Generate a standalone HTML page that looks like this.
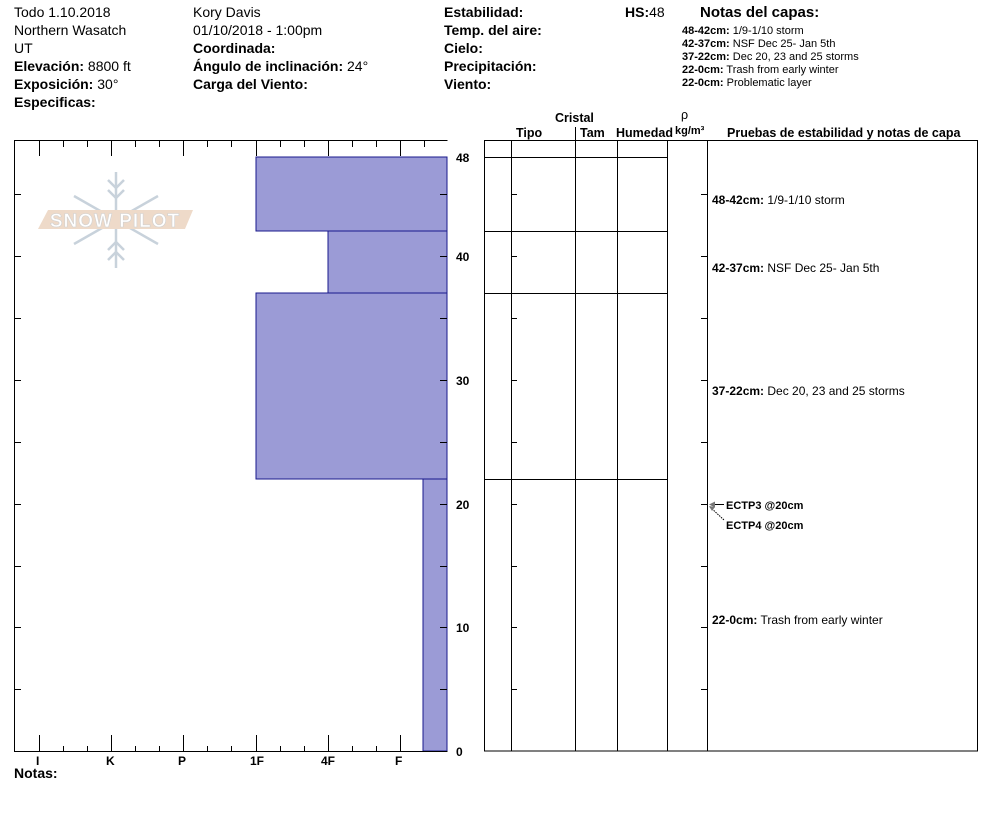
<!DOCTYPE html>
<html><head><meta charset="utf-8"><style>
body{margin:0;background:#fff}
svg{display:block;font-family:"Liberation Sans",Arial,sans-serif}
.b{font-weight:bold}
</style></head><body>
<svg width="994" height="840" viewBox="0 0 994 840" xmlns="http://www.w3.org/2000/svg">
<g font-size="14" fill="#000">
<text x="14" y="17">Todo 1.10.2018</text>
<text x="14" y="35">Northern Wasatch</text>
<text x="14" y="53">UT</text>
<text x="14" y="71"><tspan class="b">Elevación:</tspan> 8800 ft</text>
<text x="14" y="89"><tspan class="b">Exposición:</tspan> 30°</text>
<text x="14" y="107" class="b">Especificas:</text>
<text x="193" y="17">Kory Davis</text>
<text x="193" y="35">01/10/2018 - 1:00pm</text>
<text x="193" y="53" class="b">Coordinada:</text>
<text x="193" y="71"><tspan class="b">Ángulo de inclinación:</tspan> 24°</text>
<text x="193" y="89" class="b">Carga del Viento:</text>
<text x="444" y="17" class="b">Estabilidad:</text>
<text x="444" y="35" class="b">Temp. del aire:</text>
<text x="444" y="53" class="b">Cielo:</text>
<text x="444" y="71" class="b">Precipitación:</text>
<text x="444" y="89" class="b">Viento:</text>
<text x="625" y="17"><tspan class="b">HS:</tspan>48</text>
<text x="700" y="17" class="b" font-size="15">Notas del capas:</text>
</g>
<g font-size="11">
<text x="682" y="34"><tspan class="b">48-42cm:</tspan> 1/9-1/10 storm</text>
<text x="682" y="47"><tspan class="b">42-37cm:</tspan> NSF Dec 25- Jan 5th</text>
<text x="682" y="60"><tspan class="b">37-22cm:</tspan> Dec 20, 23 and 25 storms</text>
<text x="682" y="73"><tspan class="b">22-0cm:</tspan>  Trash from early winter</text>
<text x="682" y="86"><tspan class="b">22-0cm:</tspan> Problematic layer</text>
</g>
<!-- logo -->
<g opacity="0.9">
<g stroke="#c3ced8" stroke-width="2.5" fill="none">
<line x1="116" y1="172" x2="116" y2="268"/>
<line x1="74" y1="196" x2="158" y2="244"/>
<line x1="74" y1="244" x2="158" y2="196"/>
<path d="M108 180l8 8 8-8M108 190l8 8 8-8M108 260l8-8 8 8M108 250l8-8 8 8"/>
</g>
<polygon points="48,210 193,210 185,229 38,229" fill="#edd7c4"/>
<text x="115" y="227" text-anchor="middle" font-size="19" fill="#fff" stroke="#ccc" stroke-width="0.6" font-weight="bold" letter-spacing="1">SNOW PILOT</text>
</g>
<!-- bars -->
<g fill="#9b9bd6" stroke="#1a1a8c" stroke-width="1">
<rect x="256" y="157" width="191" height="74"/>
<rect x="328" y="231" width="119" height="62"/>
<rect x="256" y="293" width="191" height="186"/>
<rect x="423" y="479" width="24" height="272"/>
</g>
<!-- left frame -->
<g stroke="#000" stroke-width="1" fill="none">
<path d="M14.5 140.5H447.5M14.5 140V751M14 751.5H447.5"/>
<path d="M39.5 140v16M111.5 140v16M183.5 140v16M256.5 140v16M328.5 140v16M400.5 140v16
M63.5 140v7M87.5 140v7M135.5 140v7M159.5 140v7M207.5 140v7M231.5 140v7M280.5 140v7M304.5 140v7M352.5 140v7M376.5 140v7M424.5 140v7
M39.5 751v-16M111.5 751v-16M183.5 751v-16M256.5 751v-16M328.5 751v-16M400.5 751v-16
M63.5 751v-5M87.5 751v-5M135.5 751v-5M159.5 751v-5M207.5 751v-5M231.5 751v-5M280.5 751v-5M304.5 751v-5M352.5 751v-5M376.5 751v-5"/>
<path d="M14 194.5h7M14 256.5h7M14 318.5h7M14 380.5h7M14 442.5h7M14 504.5h7M14 566.5h7M14 627.5h7M14 689.5h7
M447 194.5h-7M447 256.5h-7M447 318.5h-7M447 380.5h-7M447 442.5h-7M447 504.5h-7M447 566.5h-7M447 627.5h-7M447 689.5h-7"/>
</g>
<g font-size="12" class="b" font-weight="bold">
<text x="456" y="162">48</text><text x="456" y="261">40</text><text x="456" y="385">30</text>
<text x="456" y="509">20</text><text x="456" y="632">10</text><text x="456" y="756">0</text>
<text x="36" y="765">I</text><text x="106" y="765">K</text><text x="178" y="765">P</text>
<text x="250" y="765">1F</text><text x="321" y="765">4F</text><text x="395" y="765">F</text>
<text x="14" y="778" font-size="14">Notas:</text>
</g>
<!-- right table -->
<g font-size="12.5" font-weight="bold">
<text x="555" y="122">Cristal</text>
<text x="516" y="137">Tipo</text><text x="580" y="137">Tam</text><text x="616" y="137">Humedad</text>
<text x="681" y="119" font-weight="normal">ρ</text>
<text x="675" y="134" font-size="11">kg/m³</text>
<text x="727" y="137">Pruebas de estabilidad y notas de capa</text>
</g>
<g stroke="#000" stroke-width="1" fill="none">
<rect x="484.5" y="140.5" width="493" height="610.5"/>
<path d="M511.5 140V751M575.5 140V751M617.5 140V751M667.5 140V751M707.5 140V751M575.5 127v13"/>
<path d="M484 157.5H667M484 231.5H667M484 293.5H667M484 479.5H667"/>
<path d="M511 194.5h6M511 256.5h6M511 318.5h6M511 380.5h6M511 442.5h6M511 504.5h6M511 566.5h6M511 627.5h6M511 689.5h6
M707 194.5h-6M707 256.5h-6M707 318.5h-6M707 380.5h-6M707 442.5h-6M707 504.5h-6M707 566.5h-6M707 627.5h-6M707 689.5h-6"/>
<path d="M710 504.5h14"/>
<path d="M710 507l14 13" stroke-dasharray="1.5,1"/>
</g>
<path d="M709 504.5l6-3v6z M709 506l6 1-3 4z" fill="#777"/>
<g font-size="12">
<text x="712" y="204"><tspan font-weight="bold">48-42cm:</tspan> 1/9-1/10 storm</text>
<text x="712" y="272"><tspan font-weight="bold">42-37cm:</tspan> NSF Dec 25- Jan 5th</text>
<text x="712" y="395"><tspan font-weight="bold">37-22cm:</tspan> Dec 20, 23 and 25 storms</text>
<text x="712" y="624"><tspan font-weight="bold">22-0cm:</tspan>  Trash from early winter</text>
<text x="726" y="509" font-size="11" font-weight="bold">ECTP3 @20cm</text>
<text x="726" y="529" font-size="11" font-weight="bold">ECTP4 @20cm</text>
</g>
</svg>
</body></html>
